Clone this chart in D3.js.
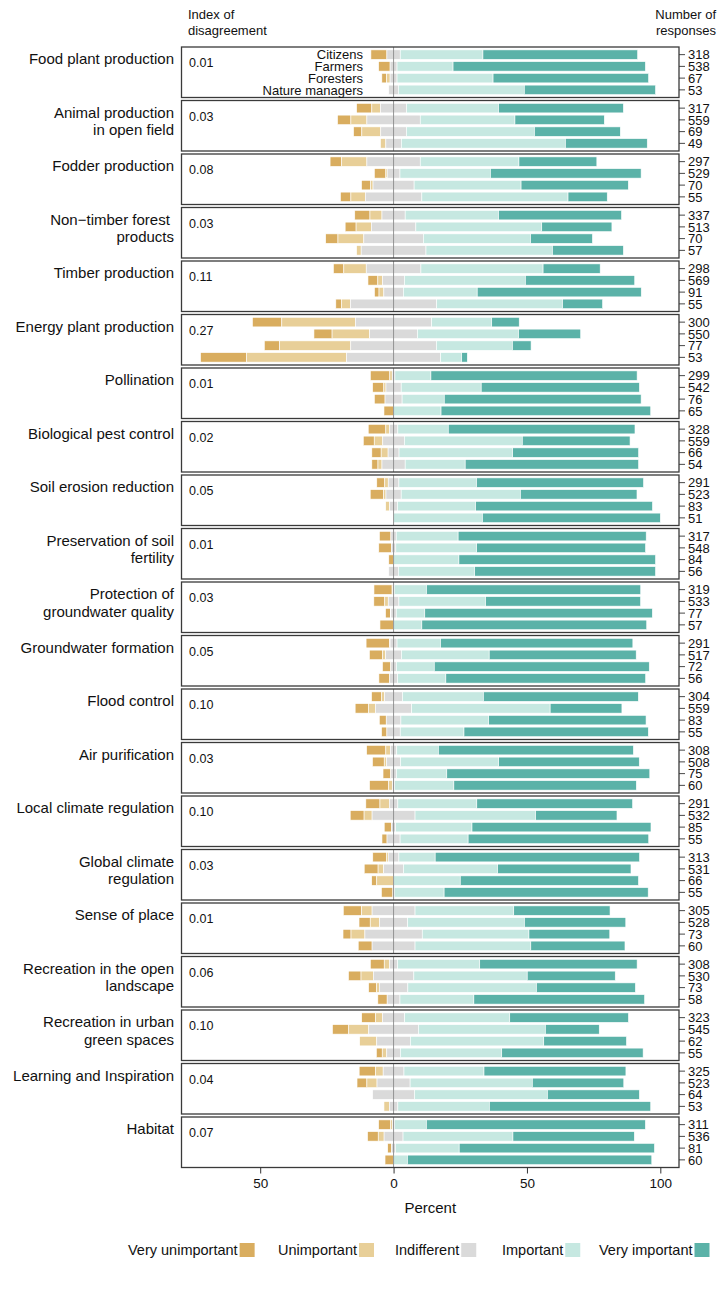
<!DOCTYPE html>
<html>
<head>
<meta charset="utf-8">
<script src="https://cdn.jsdelivr.net/npm/d3@7"></script>
<style>
  body { margin: 0; background: #fff; }
  svg { font-family: "Liberation Sans", Arial, sans-serif; }
</style>
</head>
<body>
<svg id="chart"></svg>
<script>
// ecosystem services, one panel each
const services = [
  ["Food plant production"],
  ["Animal production", "in open field"],
  ["Fodder production"],
  ["Non\u2212timber forest ", "products"],
  ["Timber production"],
  ["Energy plant production"],
  ["Pollination"],
  ["Biological pest control"],
  ["Soil erosion reduction"],
  ["Preservation of soil", "fertility"],
  ["Protection of", "groundwater quality"],
  ["Groundwater formation"],
  ["Flood control"],
  ["Air purification"],
  ["Local climate regulation"],
  ["Global climate", "regulation"],
  ["Sense of place"],
  ["Recreation in the open", "landscape"],
  ["Recreation in urban", "green spaces"],
  ["Learning and Inspiration"],
  ["Habitat"]
];

const disagreement = ["0.01", "0.03", "0.08", "0.03", "0.11", "0.27", "0.01", "0.02", "0.05", "0.01", "0.03",
  "0.05", "0.10", "0.03", "0.10", "0.03", "0.01", "0.06", "0.10", "0.04", "0.07"];

const groups = ["Citizens", "Farmers", "Foresters", "Nature managers"];

const levels = ["Very unimportant", "Unimportant", "Indifferent", "Important", "Very important"];
const levelColors = ["#d9ad5f", "#e8cf98", "#dadada", "#c6e8e1", "#5bb2a8"];

const responses = [
  [318, 538, 67, 53], [317, 559, 69, 49], [297, 529, 70, 55], [337, 513, 70, 57],
  [298, 569, 91, 55], [300, 550, 77, 53], [299, 542, 76, 65], [328, 559, 66, 54],
  [291, 523, 83, 51], [317, 548, 84, 56], [319, 533, 77, 57], [291, 517, 72, 56],
  [304, 559, 83, 55], [308, 508, 75, 60], [291, 532, 85, 55], [313, 531, 66, 55],
  [305, 528, 73, 60], [308, 530, 73, 58], [323, 545, 62, 55], [325, 523, 64, 53],
  [311, 536, 81, 60]
];

// percent per group: very unimportant, unimportant, indifferent, important, very important
const shares = [
  [[6, 0, 5, 31, 58], [4.3, 0, 2.6, 21, 72.1], [1.8, 1.3, 2.6, 36, 58.3], [0, 0, 3.6, 47.2, 49.2]],
  [[5.7, 3.3, 9.7, 34.5, 46.8], [5, 6, 20, 35.5, 33.5], [3.1, 7.1, 9.6, 48, 32.2], [0, 2, 5.8, 61.5, 30.7]],
  [[4.3, 9.5, 20, 37, 29.2], [4.3, 0.5, 4.8, 33.9, 56.5], [3.3, 1, 15.4, 40.1, 40.2], [3.9, 5.4, 21.2, 54.8, 14.7]],
  [[5.7, 4.5, 8.7, 35, 46.1], [4.1, 5.7, 16.7, 47.2, 26.3], [4.6, 9.7, 22.3, 40.2, 23.2], [0, 1.7, 24.3, 47.4, 26.6]],
  [[3.9, 8.4, 20.5, 45.8, 21.4], [3.7, 1.8, 8.2, 45.3, 41], [1.7, 1.8, 7.3, 27.7, 61.5], [2.1, 3.4, 32.3, 47.2, 15]],
  [[11, 27.6, 28.6, 22.5, 10.3], [6.8, 14.1, 17.9, 37.9, 23.3], [5.7, 26.7, 32.1, 28.5, 7], [17.2, 37.5, 35.3, 7.9, 2.1]],
  [[7.3, 0.9, 1, 13.5, 77.3], [4.2, 0.8, 5.7, 30, 59.3], [4, 0, 6.4, 15.8, 73.8], [3.6, 0, 0, 17.8, 78.6]],
  [[6.6, 1.3, 3.2, 18.9, 70], [4.1, 3.2, 8.1, 44.2, 40.4], [3.5, 2.6, 4.1, 42.6, 47.2], [2.3, 1.5, 8.7, 22.5, 65]],
  [[3, 1.3, 4, 29.1, 62.6], [5, 0.9, 5.7, 44.7, 43.7], [0, 1.5, 2.9, 29.3, 66.3], [0, 0, 0, 33.3, 66.7]],
  [[4.3, 0, 2, 23.2, 70.5], [4.7, 0, 1.7, 30.3, 63.3], [1.8, 0, 0, 24.5, 73.7], [0, 0, 3.6, 28.6, 67.8]],
  [[6.8, 0.3, 0.5, 12.1, 80.3], [4.1, 1.3, 4, 32.5, 58.1], [1.8, 0.2, 2, 10.7, 85.3], [5.1, 0, 0, 10.6, 84.3]],
  [[8.8, 0.2, 2.6, 16.3, 72.1], [4.9, 1.2, 5.9, 32.9, 55.1], [3.1, 0, 2.1, 14.2, 80.6], [4, 0, 3, 18.1, 74.9]],
  [[3.7, 1.2, 6.7, 30.3, 58.1], [5, 2.6, 13.6, 51.9, 26.9], [2.6, 0, 5.5, 32.9, 59], [2, 0, 5, 23.9, 69.1]],
  [[7.2, 1.7, 2.4, 15.6, 73.1], [4.4, 0.9, 5.2, 36.8, 52.7], [2.9, 0, 2.1, 18.9, 76.1], [7.1, 1.5, 0.8, 22.2, 68.4]],
  [[5.3, 3.5, 3.2, 29.6, 58.4], [5.2, 3, 16.1, 45.2, 30.5], [2.7, 0, 1.6, 28.6, 67.1], [1.9, 0, 4.9, 25.5, 67.7]],
  [[5.1, 0.7, 4, 13.6, 76.6], [5.2, 2.1, 7.4, 35.3, 50], [1.9, 6.3, 0, 25, 66.8], [4.3, 0, 0.5, 18.7, 76.5]],
  [[6.9, 3.9, 16.1, 37, 36.1], [4.2, 3.5, 10.5, 43.8, 38], [3, 5.2, 21.5, 40, 30.3], [5.2, 0, 16.1, 43.4, 35.3]],
  [[5.2, 2, 3, 30.8, 59], [4.7, 4.6, 15.2, 42.5, 33], [3, 1, 10.7, 48.2, 37.1], [3.5, 0, 4.8, 27.7, 64]],
  [[5.2, 2.6, 8.3, 39.4, 44.5], [6.1, 7.5, 18.6, 47.6, 20.2], [0, 6.4, 12.6, 50, 31], [2.2, 1.7, 5.1, 38, 53]],
  [[6.2, 2.8, 7.8, 30, 53.2], [3.7, 3.8, 12.4, 45.8, 34.3], [0, 0, 15.7, 49.8, 34.5], [0, 2, 3.2, 34.3, 60.5]],
  [[4.4, 0.9, 0.6, 12, 82.1], [4, 2.2, 7.1, 41.2, 45.5], [1.5, 0, 1.4, 23.9, 73.2], [3.2, 0, 0, 5.2, 91.6]]
];

const xTicks = [-50, 0, 50, 100];

const width = 718, height = 1289;
const frameLeft = 181.5, frameRight = 679;
const firstTop = 47, pitch = 53.5, panelH = 50.5;
const barH = 9.5;

const svg = d3.select("#chart").attr("width", width).attr("height", height);

const x = d3.scaleLinear().domain([-79.5, 107]).range([frameLeft, frameRight]);
const panelY = d3.scaleBand().domain(d3.range(services.length))
  .range([firstTop, firstTop + pitch * services.length]).paddingInner(0);
const rowY = d3.scalePoint().domain(groups).range([0, panelH]).padding(0.65);
const color = d3.scaleOrdinal().domain(levels).range(levelColors);

// headers
const header = svg.append("g").attr("font-size", 13).attr("fill", "#111");
header.append("text").attr("x", 188).attr("y", 19).text("Index of");
header.append("text").attr("x", 188).attr("y", 35).text("disagreement");
header.append("text").attr("x", 716).attr("y", 19).attr("text-anchor", "end").text("Number of");
header.append("text").attr("x", 716).attr("y", 35).attr("text-anchor", "end").text("responses");

function stackRow(vals) {
  let start = -(vals[0] + vals[1] + vals[2] / 2);
  return vals.map((v, i) => {
    const seg = { level: levels[i], x0: start, x1: start + v };
    start += v;
    return seg;
  });
}

services.forEach((lines, si) => {
  const top = panelY(si);
  const panel = svg.append("g").attr("transform", `translate(0,${top})`);

  // service label on the left
  const label = panel.append("text").attr("text-anchor", "end").attr("font-size", 15).attr("fill", "#111");
  lines.forEach((line, li) => {
    label.append("tspan").attr("x", 174).attr("y", 17 + li * 17.5).text(line);
  });

  panel.append("text").attr("x", 189).attr("y", 20).attr("font-size", 12.5).attr("fill", "#111")
    .text(disagreement[si]);

  groups.forEach((g, gi) => {
    const yc = rowY(g);
    const segs = stackRow(shares[si][gi]).filter((d) => d.x1 - d.x0 > 0);
    panel.selectAll(null).data(segs).join("rect")
      .attr("x", (d) => x(d.x0))
      .attr("y", yc - barH / 2)
      .attr("width", (d) => x(d.x1) - x(d.x0))
      .attr("height", barH)
      .attr("fill", (d) => color(d.level))
      .attr("stroke", "#fff")
      .attr("stroke-width", 0.6);
  });

  // zero reference line
  panel.append("line")
    .attr("x1", x(0)).attr("x2", x(0))
    .attr("y1", 0).attr("y2", panelH)
    .attr("stroke", "#8a8a8a").attr("stroke-width", 0.9);

  panel.append("rect")
    .attr("x", frameLeft).attr("y", 0)
    .attr("width", frameRight - frameLeft).attr("height", panelH)
    .attr("fill", "none").attr("stroke", "#3a3a3a").attr("stroke-width", 1.3);

  // right axis with number of responses
  const right = panel.append("g").attr("transform", `translate(${frameRight},0)`);
  groups.forEach((g, gi) => {
    right.append("line").attr("x1", 0).attr("x2", 6).attr("y1", rowY(g)).attr("y2", rowY(g))
      .attr("stroke", "#333").attr("stroke-width", 0.9);
    right.append("text").attr("x", 9).attr("y", rowY(g)).attr("dy", "0.36em")
      .attr("font-size", 13).attr("fill", "#111").text(responses[si][gi]);
  });

  if (si === 0) {
    groups.forEach((g) => {
      panel.append("text").attr("x", 363).attr("y", rowY(g)).attr("dy", "0.36em")
        .attr("text-anchor", "end").attr("font-size", 13).attr("fill", "#111").text(g);
    });
  }
});

// bottom axis
const bottom = panelY(services.length - 1) + panelH;
const xAxis = svg.append("g").attr("transform", `translate(0,${bottom})`)
  .call(d3.axisBottom(x).tickValues(xTicks).tickSize(6).tickPadding(5).tickFormat((d) => Math.abs(d)));
xAxis.select(".domain").remove();
xAxis.selectAll("text").attr("font-size", 13.5).attr("fill", "#111").attr("font-family", "Liberation Sans, Arial, sans-serif");
xAxis.selectAll("line").attr("stroke", "#333");

svg.append("text").attr("x", (frameLeft + frameRight) / 2).attr("y", bottom + 45)
  .attr("text-anchor", "middle").attr("font-size", 15).attr("fill", "#111").text("Percent");

// legend: label followed by swatch
const legendX = [128, 278, 395, 502, 599];
const legend = svg.append("g").attr("transform", "translate(0,1250)");
levels.forEach((lv, i) => {
  const t = legend.append("text").attr("x", legendX[i]).attr("y", 0).attr("dy", "0.36em")
    .attr("font-size", 14.5).attr("fill", "#111").text(lv);
  const w = t.node().getComputedTextLength();
  legend.append("rect").attr("x", legendX[i] + w + 2).attr("y", -7)
    .attr("width", 15).attr("height", 14).attr("fill", color(lv));
});
</script>
</body>
</html>
